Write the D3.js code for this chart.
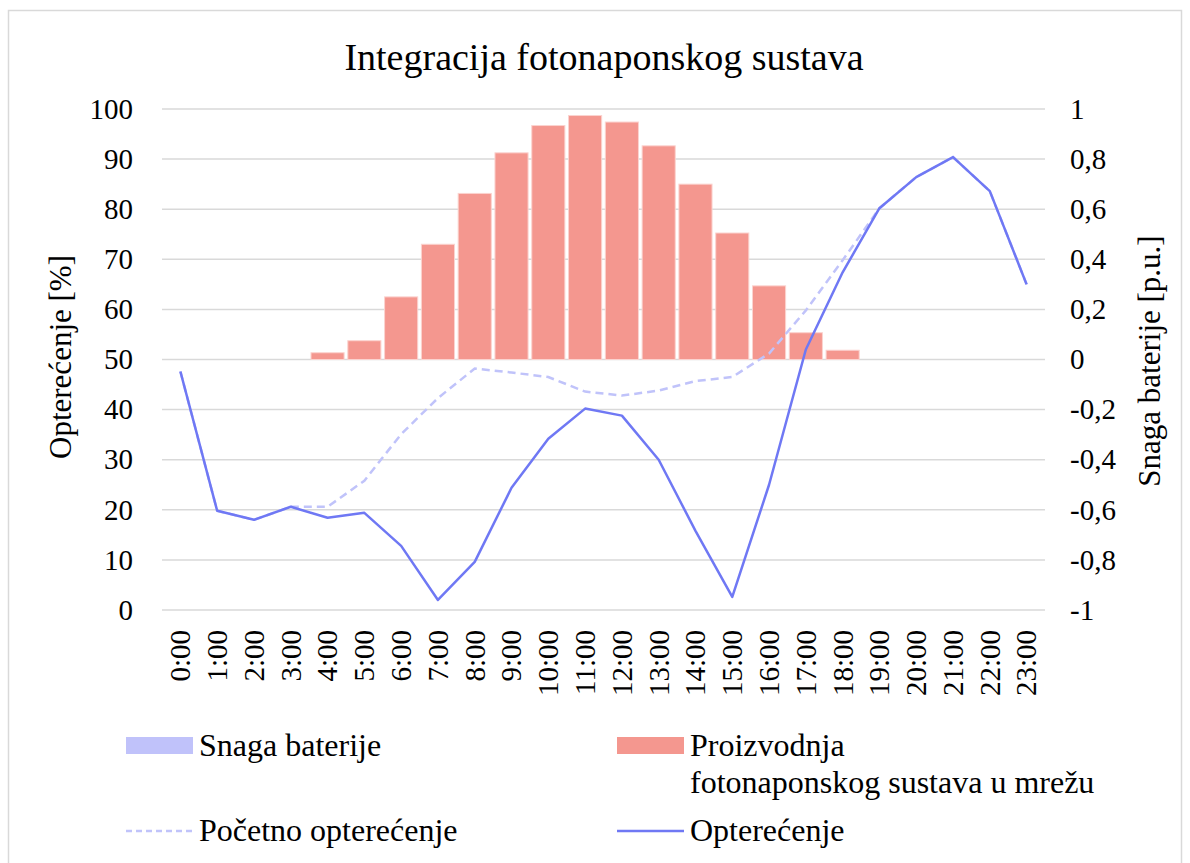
<!DOCTYPE html>
<html>
<head>
<meta charset="utf-8">
<script src="https://cdn.jsdelivr.net/npm/d3@7"></script>
<style>
  body { margin: 0; background: #fff; }
  text { font-family: "Liberation Serif", "Times New Roman", serif; fill: #000; }
</style>
</head>
<body>
<div id="vis"></div>
<script>
var hours = ["0:00","1:00","2:00","3:00","4:00","5:00","6:00","7:00","8:00","9:00","10:00","11:00",
  "12:00","13:00","14:00","15:00","16:00","17:00","18:00","19:00","20:00","21:00","22:00","23:00"];

// Snaga baterije [p.u.] - nothing visible in the picture
var snagaBaterije = [0,0,0,0,0,0,0,0,0,0,0,0,0,0,0,0,0,0,0,0,0,0,0,0];

// Proizvodnja fotonaponskog sustava u mrežu [p.u.], right axis
var proizvodnja = [0,0,0,0,0.027,0.075,0.25,0.46,0.663,0.825,0.934,0.974,
  0.948,0.853,0.70,0.505,0.294,0.107,0.037,0,0,0,0,0];

// Početno opterećenje [%], left axis
var pocetno = [47.6,19.8,18.0,20.6,20.6,25.8,35.1,42.3,48.2,47.4,46.5,43.6,
  42.8,43.8,45.7,46.5,51.2,59.8,69.8,80.2,86.4,90.4,83.6,65.0];

// Opterećenje [%], left axis
var opterecenje = [47.6,19.8,18.0,20.6,18.4,19.4,12.8,2.0,9.6,24.4,34.2,40.2,
  38.8,30.0,15.8,2.6,25.0,52.0,67.4,80.2,86.4,90.4,83.6,65.0];

var leftTicks = [0,10,20,30,40,50,60,70,80,90,100];
var rightTicks = [-1,-0.8,-0.6,-0.4,-0.2,0,0.2,0.4,0.6,0.8,1];

var width = 1190, height = 863;
var margin = { top: 109, bottom: 253, left: 162, right: 145 };

var svg = d3.select('#vis')
  .append('svg')
  .attr('width', width)
  .attr('height', height);

// chart border
svg.append('rect')
  .attr('x', 8.5).attr('y', 10.5)
  .attr('width', 1173).attr('height', 860)
  .attr('fill', 'none')
  .attr('stroke', '#d9d9d9')
  .attr('stroke-width', 1.5);

var g = svg.append('g')
  .attr('transform', 'translate(' + margin.left + ',' + margin.top + ')');

var w = width - margin.left - margin.right;
var h = height - margin.top - margin.bottom;

var x_scale = d3.scaleBand()
  .domain(hours)
  .range([0, w])
  .paddingInner(0.1)
  .paddingOuter(0.05);

var x_point = function(d) { return x_scale(d) + x_scale.bandwidth() / 2; };

var y_left = d3.scaleLinear().domain([0, 100]).range([h, 0]);
var y_right = d3.scaleLinear().domain([-1, 1]).range([h, 0]);

// gridlines
g.selectAll('.grid')
  .data(leftTicks)
  .enter()
  .append('line')
  .attr('class', 'grid')
  .attr('x1', 0).attr('x2', w)
  .attr('y1', function(d) { return y_left(d); })
  .attr('y2', function(d) { return y_left(d); })
  .attr('stroke', '#d9d9d9')
  .attr('stroke-width', 1.5);

// bars - Snaga baterije (left axis)
g.selectAll('.bat')
  .data(snagaBaterije)
  .enter()
  .append('rect')
  .attr('class', 'bat')
  .attr('x', function(d, i) { return x_scale(hours[i]); })
  .attr('width', x_scale.bandwidth())
  .attr('y', function(d) { return y_left(Math.max(d, 0)); })
  .attr('height', function(d) { return Math.abs(y_left(0) - y_left(d)); })
  .attr('fill', '#c0c2fa');

// bars - Proizvodnja (right axis)
g.selectAll('.pv')
  .data(proizvodnja)
  .enter()
  .append('rect')
  .attr('class', 'pv')
  .attr('x', function(d, i) { return x_scale(hours[i]); })
  .attr('width', x_scale.bandwidth())
  .attr('y', function(d) { return y_right(Math.max(d, 0)); })
  .attr('height', function(d) { return Math.abs(y_right(0) - y_right(d)); })
  .attr('fill', '#f4978f')
  .attr('stroke', '#fbd3cf')
  .attr('stroke-width', 1)
  .style('display', function(d) { return d > 0 ? null : 'none'; });

var line = d3.line()
  .x(function(d, i) { return x_point(hours[i]); })
  .y(function(d) { return y_left(d); });

g.append('path')
  .datum(pocetno)
  .attr('d', line)
  .attr('fill', 'none')
  .attr('stroke', '#c0c3fa')
  .attr('stroke-width', 2.5)
  .attr('stroke-dasharray', '8,5');

g.append('path')
  .datum(opterecenje)
  .attr('d', line)
  .attr('fill', 'none')
  .attr('stroke', '#6f78f4')
  .attr('stroke-width', 2.5)
  .attr('stroke-linejoin', 'round');

// axes
var fmt = function(d) { return String(+d.toFixed(1)).replace('.', ','); };

var y_axis = d3.axisLeft(y_left).tickValues(leftTicks).tickSize(0).tickPadding(29);
var y_axis_r = d3.axisRight(y_right).tickValues(rightTicks).tickSize(0).tickPadding(25).tickFormat(fmt);
var x_axis = d3.axisBottom(x_scale).tickSize(0).tickPadding(0);

g.append('g').attr('class', 'y axis').call(y_axis);
g.append('g').attr('class', 'y2 axis').attr('transform', 'translate(' + w + ',0)').call(y_axis_r);
g.append('g').attr('class', 'x axis').attr('transform', 'translate(0,' + h + ')')
  .call(x_axis)
  .selectAll('text')
    .style('text-anchor', 'end')
    .attr('transform', 'rotate(-90)')
    .attr('x', -20)
    .attr('y', 0)
    .attr('dy', '0.34em');

g.selectAll('.axis path').remove();
g.selectAll('.axis text')
  .style('font-family', '"Liberation Serif", "Times New Roman", serif')
  .style('font-size', '29px');

// titles
svg.append('text')
  .attr('x', 604).attr('y', 70)
  .attr('text-anchor', 'middle')
  .style('font-size', '38px')
  .text('Integracija fotonaponskog sustava');

svg.append('text')
  .attr('transform', 'translate(71,357) rotate(-90)')
  .attr('text-anchor', 'middle')
  .style('font-size', '31px')
  .text('Opterećenje [%]');

svg.append('text')
  .attr('transform', 'translate(1160,361) rotate(-90)')
  .attr('text-anchor', 'middle')
  .style('font-size', '31px')
  .text('Snaga baterije [p.u.]');

// legend
var legend = svg.append('g').attr('class', 'legend').style('font-size', '32px');

legend.append('rect').attr('x', 126).attr('y', 737).attr('width', 67).attr('height', 17).attr('fill', '#c0c2fa');
legend.append('text').attr('x', 199).attr('y', 756).text('Snaga baterije');

legend.append('rect').attr('x', 617).attr('y', 737).attr('width', 67).attr('height', 17).attr('fill', '#f4978f');
legend.append('text').attr('x', 690).attr('y', 756).text('Proizvodnja');
legend.append('text').attr('x', 690).attr('y', 793).text('fotonaponskog sustava u mrežu');

legend.append('line').attr('x1', 126).attr('x2', 193).attr('y1', 831).attr('y2', 831)
  .attr('stroke', '#c0c3fa').attr('stroke-width', 2.5).attr('stroke-dasharray', '6,4');
legend.append('text').attr('x', 199).attr('y', 841).text('Početno opterećenje');

legend.append('line').attr('x1', 617).attr('x2', 684).attr('y1', 831).attr('y2', 831)
  .attr('stroke', '#6f78f4').attr('stroke-width', 2.5);
legend.append('text').attr('x', 690).attr('y', 841).text('Opterećenje');
</script>
</body>
</html>
